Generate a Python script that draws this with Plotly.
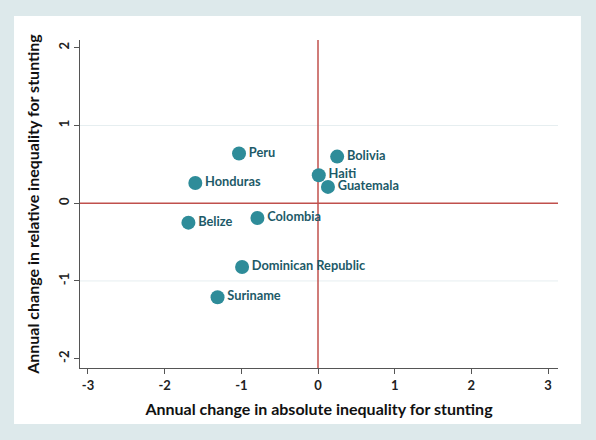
import plotly.graph_objects as go

countries = ["Peru", "Honduras", "Bolivia", "Haiti", "Guatemala", "Belize",
             "Colombia", "Dominican Republic", "Suriname"]
abs_change = [-1.03, -1.60, 0.25, 0.01, 0.13, -1.69, -0.79, -0.99, -1.31]
rel_change = [0.64, 0.26, 0.60, 0.36, 0.21, -0.25, -0.19, -0.82, -1.21]
x_ticks = [-3, -2, -1, 0, 1, 2, 3]
x_tick_labels = ["-3", "-2", "-1", "0", "1", "2", "3"]
y_ticks = [-2, -1, 0, 1, 2]
y_tick_labels = ["-2", "-1", "0", "1", "2"]
grid_y = [-1, 1]

FONT = "Lato"
fig = go.Figure()
fig.add_trace(go.Scatter(
    x=abs_change, y=rel_change, mode="markers+text",
    text=countries, textposition="middle right",
    marker=dict(size=14, color="#2e8c99"),
    textfont=dict(family=FONT, size=12.8, color="#1d5a68", weight="bold"),
    cliponaxis=False, showlegend=False, hoverinfo="skip",
))

shapes = [
    dict(type="rect", xref="paper", yref="paper", x0=-0.138, x1=1.048,
         y0=-0.171, y1=1.073, fillcolor="white", line=dict(width=0), layer="below"),
]
for g in grid_y:
    shapes.append(dict(type="line", xref="paper", yref="y", x0=0, x1=1, y0=g, y1=g,
                       line=dict(color="#e6eef0", width=1), layer="below"))
shapes.append(dict(type="line", xref="paper", yref="y", x0=0, x1=1, y0=0, y1=0,
                   line=dict(color="#c0504d", width=1.5), layer="below"))
shapes.append(dict(type="line", xref="x", yref="paper", x0=0, x1=0, y0=0, y1=1,
                   line=dict(color="#c0504d", width=1.5), layer="below"))

fig.update_layout(
    width=596, height=440,
    margin=dict(l=80, r=38, t=40, b=72),
    paper_bgcolor="#dde9eb", plot_bgcolor="rgba(0,0,0,0)",
    shapes=shapes,
    font=dict(family=FONT),
    xaxis=dict(range=[-3.104, 3.13], tickvals=x_ticks, ticktext=x_tick_labels,
               showgrid=False, zeroline=False, automargin=False,
               showline=True, linecolor="#555", linewidth=1, ticks="outside",
               ticklen=5, tickcolor="#555",
               tickfont=dict(family=FONT, size=13, color="#222", weight="bold"),
               title=dict(text="Annual change in absolute inequality for stunting",
                          font=dict(family=FONT, size=16, color="#111", weight="bold"),
                          standoff=12)),
    yaxis=dict(range=[-2.12, 2.10], tickvals=y_ticks, ticktext=y_tick_labels,
               showgrid=False, zeroline=False, automargin=False,
               showline=True, linecolor="#555", linewidth=1, ticks="outside",
               ticklen=5, tickcolor="#555", tickangle=-90,
               tickfont=dict(family=FONT, size=13, color="#222", weight="bold"),
               title=dict(text="Annual change in relative inequality for stunting",
                          font=dict(family=FONT, size=16, color="#111", weight="bold"),
                          standoff=12)),
)
fig.write_html("out.html", config={"displayModeBar": False},
               post_script="document.body.style.margin='0';document.body.style.overflow='hidden';")
